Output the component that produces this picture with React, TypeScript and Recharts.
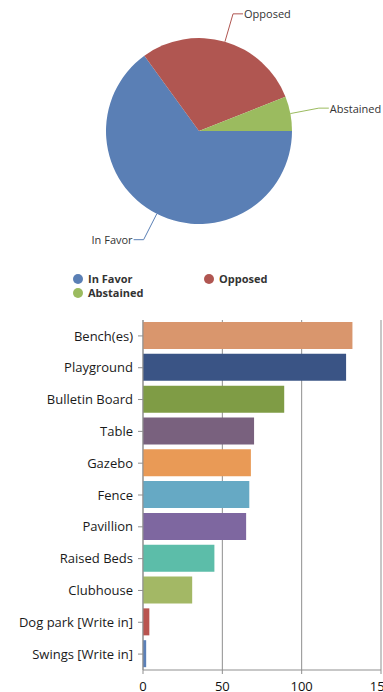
import { PieChart, Pie, Cell, Legend, BarChart, Bar, XAxis, YAxis, CartesianGrid } from 'recharts';

const pieNames = ['In Favor', 'Opposed', 'Abstained'];
const pieValues = [65, 29, 6];
const pieColors = ['#5a7fb5', '#b05651', '#9bbb5f'];

const barCategories = [
  'Bench(es)',
  'Playground',
  'Bulletin Board',
  'Table',
  'Gazebo',
  'Fence',
  'Pavillion',
  'Raised Beds',
  'Clubhouse',
  'Dog park [Write in]',
  'Swings [Write in]',
];
const barValues = [132, 128, 89, 70, 68, 67, 65, 45, 31, 4, 2];
const barColors = [
  '#d9966d',
  '#3a5485',
  '#7f9c45',
  '#79617e',
  '#e99a56',
  '#66a9c4',
  '#7e67a0',
  '#5cbda9',
  '#a3b865',
  '#b9544f',
  '#5b80b8',
];
const xTicks = [0, 50, 100, 150];

const pieData = pieNames.map((name, i) => ({ name, value: pieValues[i], color: pieColors[i] }));
const barData = barCategories.map((name, i) => ({ name, value: barValues[i] }));

const RAD = Math.PI / 180;

// elbow label: radial segment then a short horizontal one
const renderPieLabel = (props: any) => {
  const { cx, cy, midAngle, outerRadius, name, index } = props;
  const c = Math.cos(-midAngle * RAD);
  const s = Math.sin(-midAngle * RAD);
  const x0 = cx + outerRadius * c;
  const y0 = cy + outerRadius * s;
  const x1 = cx + (outerRadius + 29) * c;
  const y1 = cy + (outerRadius + 29) * s;
  const dir = c >= 0 ? 1 : -1;
  const x2 = x1 + dir * 10;
  return (
    <g>
      <polyline points={`${x0},${y0} ${x1},${y1} ${x2},${y1}`} fill="none" stroke={pieColors[index]} strokeWidth={1} />
      <text x={x2 + dir} y={y1} textAnchor={dir > 0 ? 'start' : 'end'} dominantBaseline="central" fontSize={11} fill="#333">
        {name}
      </text>
    </g>
  );
};

const renderLegend = () => (
  <div style={{ display: 'grid', gridTemplateColumns: '131px 131px', paddingLeft: 73, rowGap: 0 }}>
    {pieData.map((d) => (
      <div key={d.name} style={{ display: 'flex', alignItems: 'center', height: 14.3 }}>
        <span style={{ width: 10, height: 10, borderRadius: 5, background: d.color, marginRight: 5 }} />
        <span style={{ fontSize: 11, fontWeight: 700, color: '#333', lineHeight: '14px' }}>{d.name}</span>
      </div>
    ))}
  </div>
);

export default function App() {
  return (
    <div
      style={{
        position: 'absolute',
        left: 0,
        top: 0,
        width: 383,
        height: 692,
        overflow: 'hidden',
        background: '#fff',
        fontFamily: '"Open Sans", sans-serif',
      }}
    >
      <div style={{ position: 'absolute', left: 0, top: 0 }}>
        <PieChart width={383} height={305} margin={{ top: 0, right: 0, bottom: 0, left: 0 }}>
          <Pie
            data={pieData}
            dataKey="value"
            nameKey="name"
            cx={199}
            cy={131}
            outerRadius={93}
            startAngle={0}
            endAngle={-360}
            stroke="none"
            label={renderPieLabel}
            labelLine={false}
            isAnimationActive={false}
          >
            {pieData.map((d) => (
              <Cell key={d.name} fill={d.color} />
            ))}
          </Pie>
          <Legend content={renderLegend} wrapperStyle={{ position: 'absolute', left: 0, top: 272, width: 383 }} />
        </PieChart>
      </div>
      <div style={{ position: 'absolute', left: 0, top: 310 }}>
        <BarChart
          width={400}
          height={382}
          data={barData}
          layout="vertical"
          margin={{ top: 10, right: 19, bottom: 0, left: 0 }}
        >
          <CartesianGrid horizontal={false} stroke="#8f8f8f" />
          <XAxis
            type="number"
            domain={[0, 150]}
            ticks={xTicks}
            height={22}
            stroke="#8f8f8f"
            tickSize={4}
            tickMargin={8}
            tick={{ fontSize: 13, fill: '#111' }}
            interval={0}
          />
          <YAxis
            type="category"
            dataKey="name"
            width={143}
            stroke="#8f8f8f"
            tickSize={5}
            tickMargin={5}
            tick={{ fontSize: 13, fill: '#1a1a1a' }}
            interval={0}
          />
          <Bar dataKey="value" barSize={27} isAnimationActive={false}>
            {barData.map((d, i) => (
              <Cell key={d.name} fill={barColors[i]} />
            ))}
          </Bar>
        </BarChart>
      </div>
    </div>
  );
}
